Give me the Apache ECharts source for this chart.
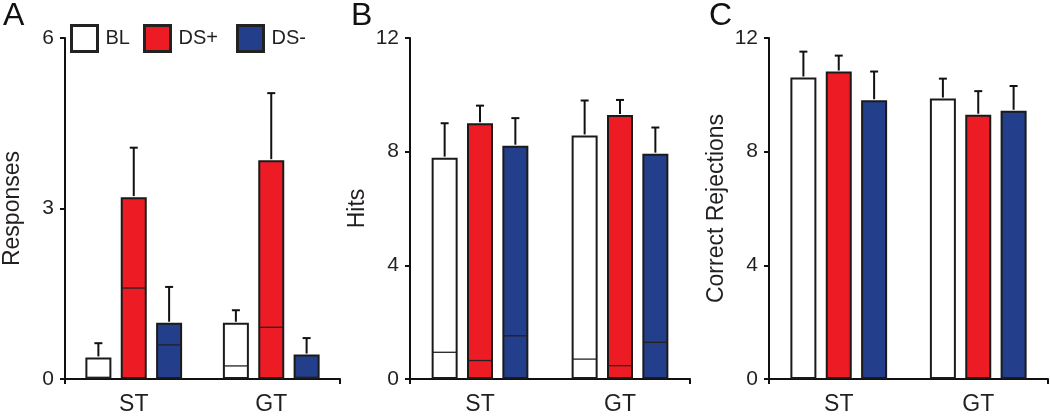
<!DOCTYPE html>
<html><head><meta charset="utf-8">
<script src="https://cdn.jsdelivr.net/npm/echarts@6/dist/echarts.min.js"></script>
<style>html,body{margin:0;padding:0;background:#fff}#c{width:1050px;height:416px}</style>
</head><body><div id="c"></div>
<script>
// ---- data ----
const categories = ['ST', 'GT'];
const seriesNames = ['BL', 'DS+', 'DS-'];
const panelLetters = ['A', 'B', 'C'];
const axisNames = ['Responses', 'Hits', 'Correct Rejections'];
const yMax = [6, 12, 12];
const yInterval = [3, 4, 4];

// Panel A: Responses (mean, upper SEM, inner first-session value)
const respBL = [0.38, 0.99], respBLErr = [0.25, 0.22], respBLInner = [0.03, 0.23];
const respDSp = [3.2, 3.85], respDSpErr = [0.87, 1.18], respDSpInner = [1.6, 0.91];
const respDSm = [0.99, 0.43], respDSmErr = [0.63, 0.29], respDSmInner = [0.6, 0.03];

// Panel B: Hits
const hitsBL = [7.79, 8.57], hitsBLErr = [1.21, 1.23], hitsBLInner = [0.94, 0.7];
const hitsDSp = [9.0, 9.29], hitsDSpErr = [0.62, 0.53], hitsDSpInner = [0.65, 0.47];
const hitsDSm = [8.21, 7.93], hitsDSmErr = [0.97, 0.92], hitsDSmInner = [1.52, 1.29];

// Panel C: Correct Rejections
const crBL = [10.61, 9.87], crBLErr = [0.91, 0.70];
const crDSp = [10.82, 9.30], crDSpErr = [0.56, 0.83];
const crDSm = [9.81, 9.44], crDSmErr = [1.01, 0.87];

const panels = [
  { means: [respBL, respDSp, respDSm], errs: [respBLErr, respDSpErr, respDSmErr], inner: [respBLInner, respDSpInner, respDSmInner] },
  { means: [hitsBL, hitsDSp, hitsDSm], errs: [hitsBLErr, hitsDSpErr, hitsDSmErr], inner: [hitsBLInner, hitsDSpInner, hitsDSmInner] },
  { means: [crBL, crDSp, crDSm], errs: [crBLErr, crDSpErr, crDSmErr], inner: [null, null, null] }
];

// ---- style ----
const FONT = '"Liberation Sans", Arial, Helvetica, sans-serif';
const INK = '#231f20';
const COLORS = ['#ffffff', '#ed1c24', '#233e8b'];
const BAR_W = 26, BAR_GAP = 0.36, CAP = 4;
const STEP = BAR_W * (1 + BAR_GAP);
const grids = [
  { left: 62, top: 38, width: 278, height: 342 },
  { left: 410, top: 38, width: 280, height: 342 },
  { left: 769, top: 38, width: 279, height: 343 }
];

function errItem(params, api) {
  const cat = api.value(0), s = api.value(1), mean = api.value(2), err = api.value(3), inner = api.value(4);
  const base = api.coord([cat, mean]);
  const x = base[0] + (s - 1) * STEP;
  const yTop = api.coord([cat, mean + err])[1];
  const children = [
    { type: 'line', shape: { x1: x, y1: base[1] - 1, x2: x, y2: yTop }, style: { stroke: '#111', lineWidth: 2 } },
    { type: 'line', shape: { x1: x - CAP, y1: yTop, x2: x + CAP, y2: yTop }, style: { stroke: '#111', lineWidth: 2 } }
  ];
  if (inner != null && !isNaN(inner) && inner >= 0) {
    const yi = api.coord([cat, inner])[1];
    children.push({ type: 'line', shape: { x1: x - BAR_W / 2 + 1, y1: yi, x2: x + BAR_W / 2 - 1, y2: yi }, style: { stroke: '#222', lineWidth: 1.3 } });
  }
  return { type: 'group', children };
}

const xAxis = [], yAxis = [], series = [], graphic = [];
panels.forEach((p, g) => {
  xAxis.push({
    type: 'category', gridIndex: g, data: categories,
    axisLine: { lineStyle: { color: '#111', width: 2 } },
    axisTick: { show: true, length: 5, interval: (i) => i === 0, lineStyle: { color: '#111', width: 2 } },
    axisLabel: { fontSize: 23, color: INK, fontFamily: FONT, margin: 14 }
  });
  yAxis.push({
    type: 'value', gridIndex: g, min: 0, max: yMax[g], interval: yInterval[g],
    name: axisNames[g], nameLocation: 'middle', nameGap: 41, nameRotate: 90,
    nameTextStyle: { fontSize: 23, color: INK, fontFamily: FONT },
    axisLine: { show: true, lineStyle: { color: '#111', width: 2 } },
    axisTick: { show: true, length: 5, lineStyle: { color: '#111', width: 2 } },
    axisLabel: { fontSize: 21, color: INK, fontFamily: FONT, margin: 11 },
    splitLine: { show: false }
  });
  const errData = [];
  seriesNames.forEach((nm, s) => {
    series.push({
      type: 'bar', name: nm, xAxisIndex: g, yAxisIndex: g,
      data: p.means[s], barWidth: BAR_W, barGap: (BAR_GAP * 100) + '%',
      itemStyle: { color: COLORS[s], borderColor: '#1a1a1a', borderWidth: 2 },
      emphasis: { disabled: true }, silent: true
    });
    p.means[s].forEach((m, c) => {
      errData.push([c, s, m, p.errs[s][c], p.inner[s] ? p.inner[s][c] : -1]);
    });
  });
  series.push({
    type: 'custom', name: 'err' + g, xAxisIndex: g, yAxisIndex: g,
    renderItem: errItem, data: errData, z: 5, silent: true
  });
});

const letterPos = [[3, 0], [351, 0], [709, 0]];
panelLetters.forEach((L, i) => {
  graphic.push({ type: 'text', x: letterPos[i][0], y: letterPos[i][1],
    style: { text: L, fontSize: 32, fill: '#111', fontFamily: FONT } });
});

const legendLeft = [70, 143, 236];
const legends = seriesNames.map((nm, i) => ({
  data: [nm], left: legendLeft[i], top: 24, padding: 0, itemWidth: 26, itemHeight: 26,
  icon: 'rect', selectedMode: false,
  textStyle: { fontSize: 20, color: INK, fontFamily: FONT, padding: [0, 0, 0, 3] },
  itemStyle: { borderWidth: 3, borderColor: '#222' }
}));

const chart = echarts.init(document.getElementById('c'), null, { renderer: 'canvas' });
chart.setOption({
  animation: false,
  backgroundColor: '#fff',
  grid: grids,
  xAxis, yAxis, series, graphic,
  legend: legends
});
</script></body></html>
